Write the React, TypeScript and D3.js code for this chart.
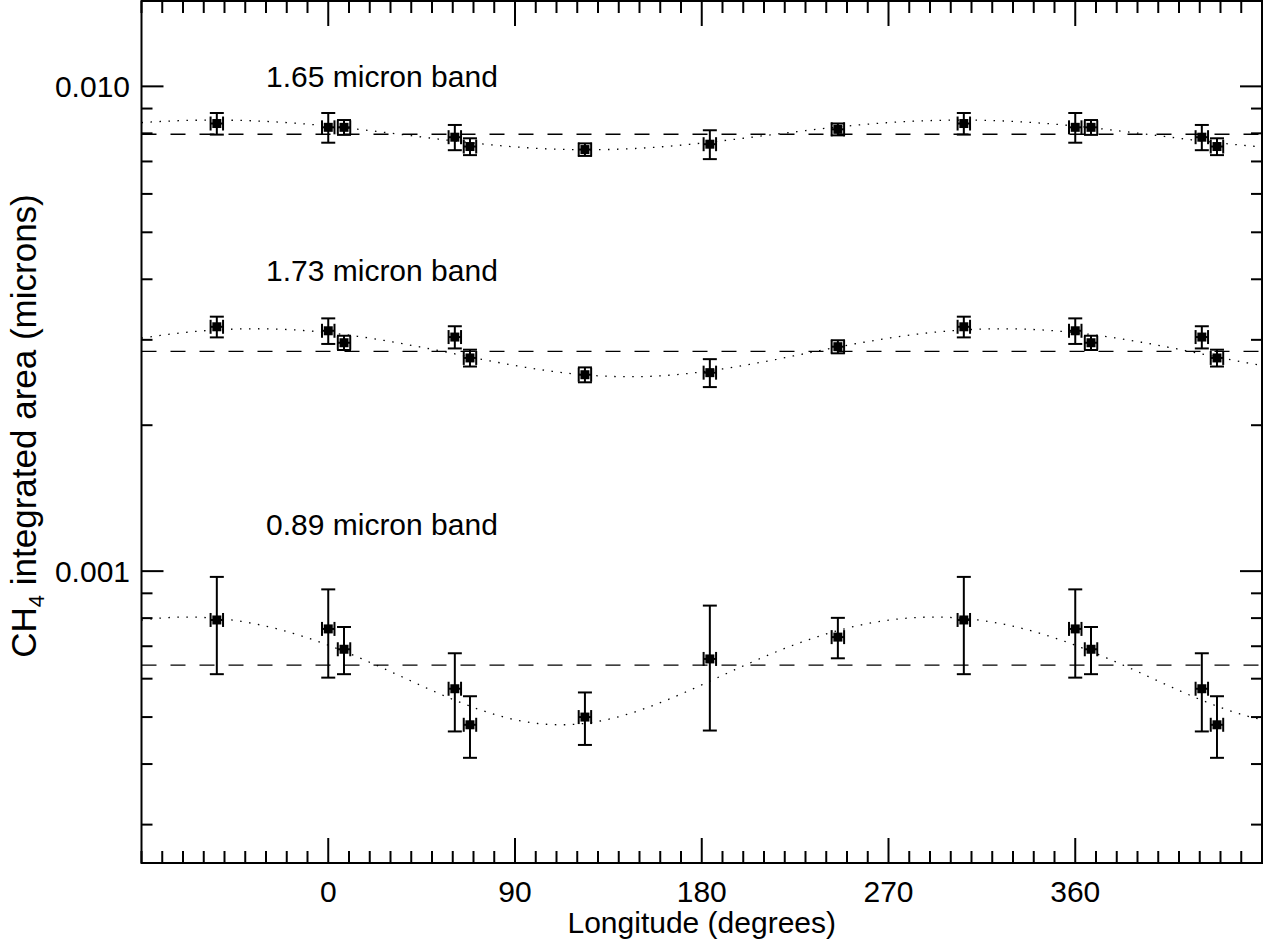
import React from "react";
import * as d3 from "d3";

// Sub-observer longitudes of the eight spectra (degrees)
const longitudes = [306.3, 0, 7.6, 61, 68.3, 123.7, 183.9, 245.6];
const longitudeErr = 3;

// Integrated band areas (microns) and 1-sigma errors, one array per band
const band089 = [0.000793, 0.00076, 0.00069, 0.000572, 0.000482, 0.0005, 0.000659, 0.000731];
const band089Err = [0.00018, 0.000157, 0.000077, 0.000105, 0.00007, 0.000062, 0.00019, 0.00007];
const band173 = [0.003192, 0.003132, 0.002959, 0.00304, 0.002753, 0.002542, 0.002567, 0.002904];
const band173Err = [0.000157, 0.00019, 0.0001, 0.00016, 0.00011, 0.00009, 0.00017, 0.00009];
const band165 = [0.008382, 0.008232, 0.008232, 0.007855, 0.007514, 0.007407, 0.007598, 0.008154];
const band165Err = [0.00043, 0.00058, 0.00029, 0.00047, 0.0003, 0.00022, 0.00052, 0.00023];

const bandNames = ["0.89 micron band", "1.73 micron band", "1.65 micron band"];
const bandLabelAt = [0.00119, 0.00397, 0.00995];
const bandMeans = [0.00064, 0.00284, 0.007965];
// Sinusoidal fit: mean + amp * cos(lon - phase)
const fitMean = [0.000643, 0.00284, 0.00796];
const fitAmp = [0.000161, 0.000322, 0.00056];
const fitPhase = [292, 325, 305];

const xTickValues = [0, 90, 180, 270, 360];
const yMajorValues = [0.001, 0.01];
const yTickLabels = ["0.001", "0.010"];

const W = 1271;
const H = 945;
const left = 141.5;
const right = 1262;
const top = 1;
const bottom = 863;
const FONT = "'Liberation Sans', Arial, Helvetica, sans-serif";

const x = d3.scaleLinear().domain([-90, 450]).range([left, right]);
const y = d3.scaleLog().domain([0.00025, 0.015]).range([bottom, top]);

const bands = [
  { v: band089, e: band089Err },
  { v: band173, e: band173Err },
  { v: band165, e: band165Err },
];

function wrapped(lon: number): number[] {
  return [lon - 360, lon, lon + 360].filter((l) => l >= -90 && l <= 450);
}

export default function App() {
  const xMinor = d3.range(-90, 451, 10);
  const yMinor: number[] = [];
  for (const dec of [1e-4, 1e-3, 1e-2]) {
    for (let k = 1; k <= 9; k++) {
      const v = k * dec;
      if (v >= 0.00025 && v <= 0.015) yMinor.push(v);
    }
  }
  const fitLons = d3.range(-90, 450.5, 1);
  const line = d3
    .line<[number, number]>()
    .x((d) => x(d[0]))
    .y((d) => y(d[1]));

  return (
    <svg
      width={W}
      height={H}
      style={{ position: "absolute", left: 0, top: 0, background: "#fff" }}
      fontFamily={FONT}
    >
      <rect x={0} y={0} width={W} height={H} fill="#fff" />

      {/* mean levels and fitted curves */}
      {bands.map((b, i) => (
        <g key={"lvl" + i}>
          <line
            x1={x(-90)}
            x2={x(450)}
            y1={y(bandMeans[i])}
            y2={y(bandMeans[i])}
            stroke="#000"
            strokeWidth={1.3}
            strokeDasharray="15 14"
          />
          <path
            d={
              line(
                fitLons.map((l) => [
                  l,
                  fitMean[i] + fitAmp[i] * Math.cos(((l - fitPhase[i]) * Math.PI) / 180),
                ]) as [number, number][]
              ) || ""
            }
            fill="none"
            stroke="#000"
            strokeWidth={1.3}
            strokeDasharray="1.5 7.5"
          />
        </g>
      ))}

      {/* data points with error bars */}
      {bands.map((b, i) =>
        longitudes.map((lon, j) =>
          wrapped(lon).map((l, k) => {
            const cx = x(l);
            const cy = y(b.v[j]);
            const yHi = y(b.v[j] + b.e[j]);
            const yLo = y(b.v[j] - b.e[j]);
            const xL = x(l - longitudeErr);
            const xR = x(l + longitudeErr);
            return (
              <g key={`p${i}-${j}-${k}`} stroke="#000" strokeWidth={2}>
                <line x1={cx} x2={cx} y1={yHi} y2={yLo} />
                <line x1={cx - 7} x2={cx + 7} y1={yHi} y2={yHi} />
                <line x1={cx - 7} x2={cx + 7} y1={yLo} y2={yLo} />
                <line x1={xL} x2={xR} y1={cy} y2={cy} />
                <line x1={xL} x2={xL} y1={cy - 7} y2={cy + 7} />
                <line x1={xR} x2={xR} y1={cy - 7} y2={cy + 7} />
                <rect x={cx - 4.5} y={cy - 4.5} width={9} height={9} fill="#000" stroke="none" />
              </g>
            );
          })
        )
      )}

      {/* band labels */}
      {bandNames.map((n, i) => (
        <text key={n} x={x(-30)} y={y(bandLabelAt[i])} fontSize={30} fill="#000">
          {n}
        </text>
      ))}

      {/* frame */}
      <rect
        x={left}
        y={top}
        width={right - left}
        height={bottom - top}
        fill="none"
        stroke="#000"
        strokeWidth={2}
      />

      {/* x ticks, bottom and top */}
      {xMinor.map((v) => {
        const major = xTickValues.includes(v);
        const len = major ? 25 : 12;
        return (
          <g key={"xt" + v} stroke="#000" strokeWidth={2}>
            <line x1={x(v)} x2={x(v)} y1={bottom} y2={bottom - len} />
            <line x1={x(v)} x2={x(v)} y1={top} y2={top + len} />
          </g>
        );
      })}
      {xTickValues.map((v) => (
        <text key={"xl" + v} x={x(v)} y={902} fontSize={30} textAnchor="middle" fill="#000">
          {v}
        </text>
      ))}

      {/* y ticks, left and right */}
      {yMinor.map((v) => {
        const major = yMajorValues.some((m) => Math.abs(m - v) < 1e-9);
        const len = major ? 22 : 11;
        return (
          <g key={"yt" + v} stroke="#000" strokeWidth={2}>
            <line x1={left} x2={left + len} y1={y(v)} y2={y(v)} />
            <line x1={right} x2={right - len} y1={y(v)} y2={y(v)} />
          </g>
        );
      })}
      {yMajorValues.map((v, i) => (
        <text key={"yl" + v} x={130} y={y(v) + 11} fontSize={30} textAnchor="end" fill="#000">
          {yTickLabels[i]}
        </text>
      ))}

      {/* axis titles */}
      <text x={(left + right) / 2} y={933} fontSize={30} textAnchor="middle" fill="#000">
        Longitude (degrees)
      </text>
      <text
        transform="translate(36, 426) rotate(-90)"
        fontSize={35}
        textAnchor="middle"
        fill="#000"
      >
        CH
        <tspan fontSize={22} dy={8}>
          4
        </tspan>
        <tspan dy={-8}> integrated area (microns)</tspan>
      </text>
    </svg>
  );
}
